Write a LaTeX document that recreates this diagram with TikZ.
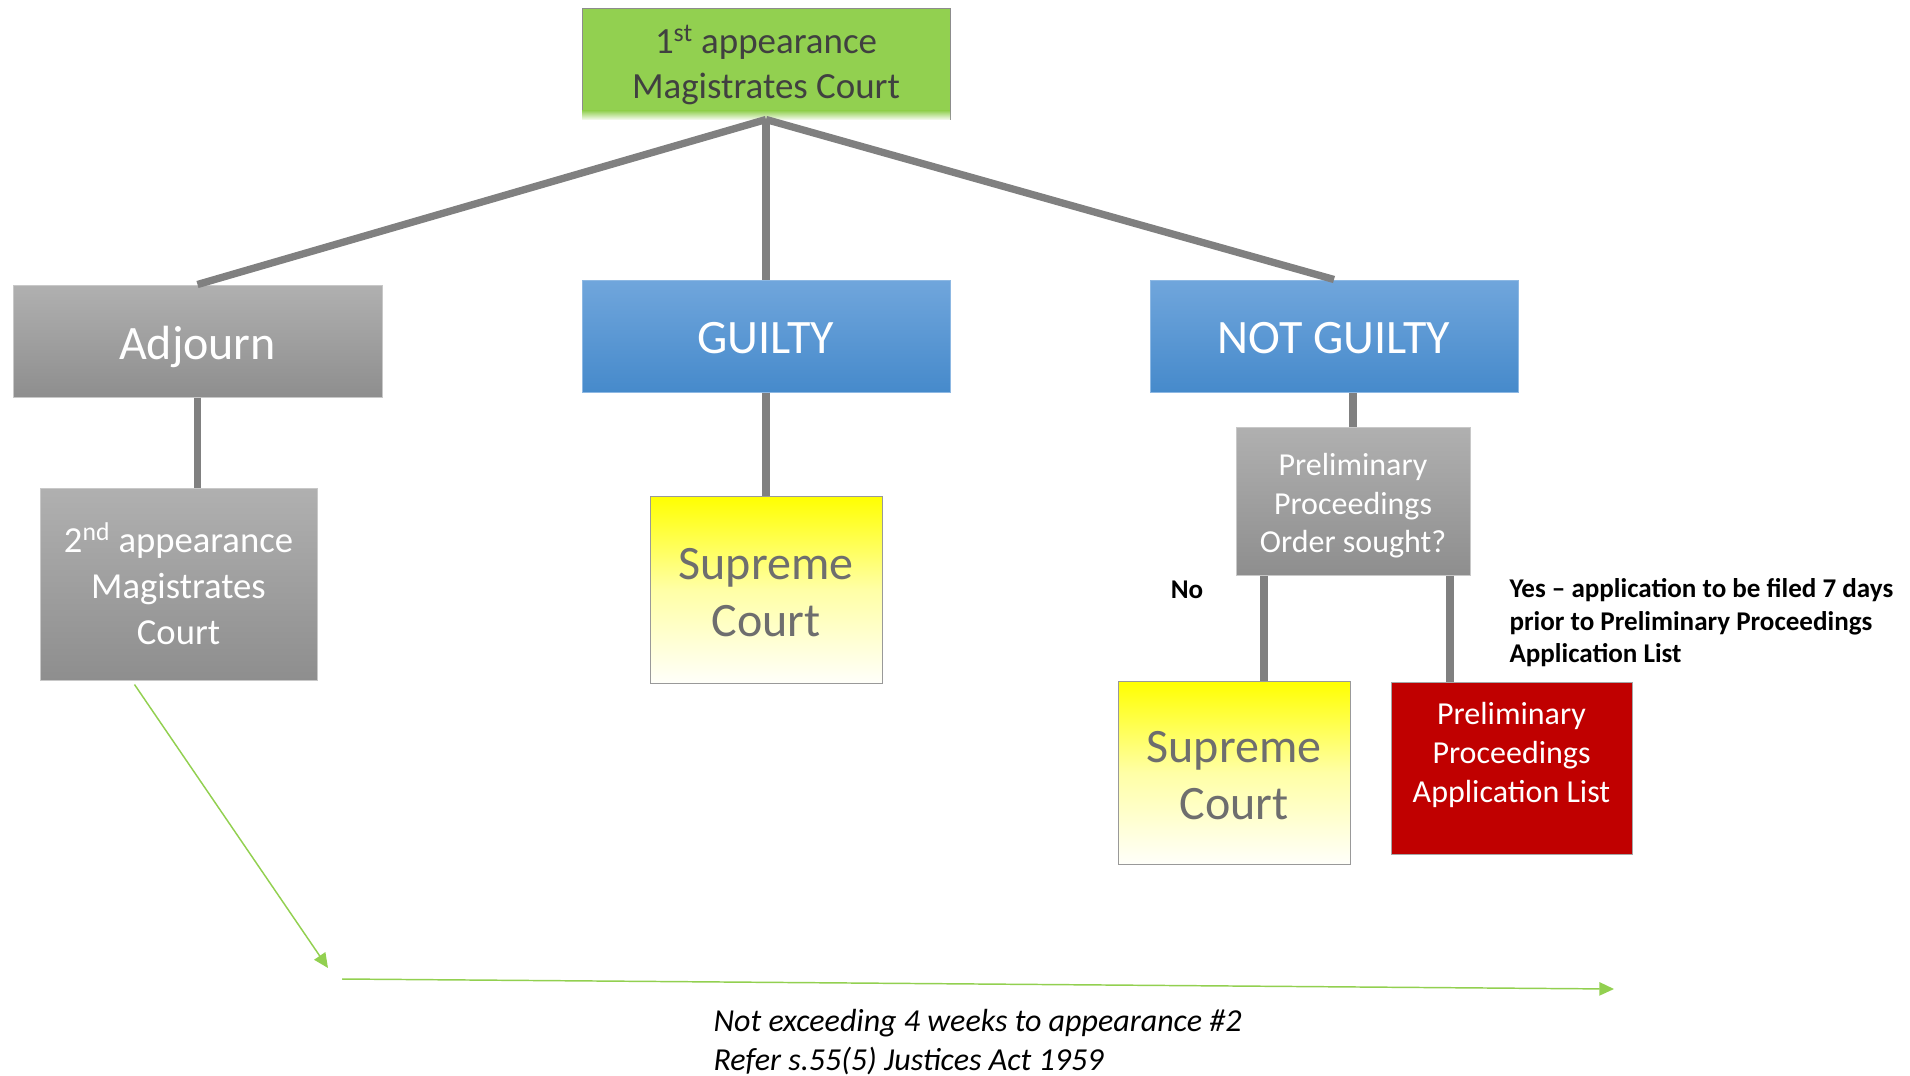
\documentclass[tikz,border=0pt]{standalone}
\usepackage{fontspec}
\setmainfont{Carlito}
\usetikzlibrary{calc,arrows.meta}

\definecolor{boxgreen}{HTML}{92D050}
\definecolor{greytop}{HTML}{B0B0B0}
\definecolor{greybot}{HTML}{8E8E8E}
\definecolor{bluetop}{HTML}{70A6DC}
\definecolor{bluebot}{HTML}{468ACB}
\definecolor{courtred}{HTML}{C00000}
\definecolor{linkgrey}{HTML}{808080}
\definecolor{textgrey}{HTML}{404040}
\definecolor{supgrey}{HTML}{6E6E6E}

% taller first line, pushes the text of a box down a little
\newcommand\tallfirst[1]{\rule{0pt}{\dimexpr\fontcharht\font`l+#1\relax}}

\tikzset{every picture/.style={line width=0.75pt}}
\tikzset{
  box/.style={rectangle, inner sep=0.75pt, align=center},
  greybox/.style={box, draw=greytop!70!white, top color=greytop, bottom color=greybot, text=white},
  bluebox/.style={box, draw=bluetop!80!white, top color=bluetop, bottom color=bluebot, text=white},
  supbox/.style={box, draw=black!40, top color=yellow, bottom color=yellow!2!white, middle color=yellow!35!white, text=supgrey},
  redbox/.style={box, draw=black!35, fill=courtred},
  link/.style={draw=linkgrey, line width=5.5pt},
  timeline/.style={draw=boxgreen, line width=1.1pt, -{Triangle[length=11pt,width=10pt]}}
}

\begin{document}
\begin{tikzpicture}[x=0.75pt,y=0.75pt,yscale=-1]
\useasboundingbox (0,0) rectangle (1910,1075);

%Shape: Rectangle
\node [box, draw=black!45, fill=boxgreen, text=textgrey, minimum width=276pt, minimum height=83.25pt, font=\fontsize{27.7}{34}\selectfont] (first) at (766,63.5) {\tallfirst{4.6pt}1\textsuperscript{st} appearance\\Magistrates Court};
\fill [top color=boxgreen, bottom color=white!85!boxgreen] ($(first.south west)+(0.5,-9)$) rectangle ($(first.south east)+(-0.5,-0.5)$);
%Shape: Rectangle
\node [greybox, minimum width=276.75pt, minimum height=84pt, font=\fontsize{36}{43}\selectfont] (adjourn) at (197.5,341) {\tallfirst{9pt}Adjourn};
%Shape: Rectangle
\node [bluebox, minimum width=276pt, minimum height=84pt, font=\fontsize{36}{43}\selectfont] (guilty) at (766,336) {\tallfirst{1.6pt}GUILTY};
%Shape: Rectangle
\node [bluebox, minimum width=276pt, minimum height=84pt, font=\fontsize{36}{43}\selectfont] (notguilty) at (1334,336) {\tallfirst{1.6pt}NOT GUILTY};
%Shape: Rectangle
\node [greybox, minimum width=207.75pt, minimum height=144pt, font=\fontsize{27.5}{34.5}\selectfont] (second) at (178.5,584) {2\textsuperscript{nd} appearance\\Magistrates\\Court};
%Shape: Rectangle
\node [supbox, minimum width=174pt, minimum height=140.25pt, font=\fontsize{36}{43}\selectfont] (supM) at (766,589.5) {\tallfirst{2.8pt}Supreme\\Court};
%Shape: Rectangle
\node [greybox, minimum width=175.5pt, minimum height=111pt, font=\fontsize{24}{29}\selectfont] (ppo) at (1353,501) {\tallfirst{7.3pt}Preliminary\\Proceedings\\Order sought?};
%Shape: Rectangle
\node [supbox, minimum width=174pt, minimum height=137.25pt, font=\fontsize{36}{43}\selectfont] (supR) at (1234,772.5) {\tallfirst{2.8pt}Supreme\\Court};
%Shape: Rectangle
\node [redbox, minimum width=180.75pt, minimum height=129pt] (red) at (1511.5,768) {};
% Text Node
\node [box, text=white, font=\fontsize{24}{29}\selectfont] (redtxt) at ($(red.center)+(0,-13)$) {Preliminary\\Proceedings\\Application List};

%Straight Lines
\draw [link] (first.south) -- (adjourn.north);
\draw [link] (first.south) -- (guilty.north);
\draw [link] (first.south) -- (notguilty.north);
\draw [link] (adjourn.south) -- (adjourn.south |- second.north);
\draw [link] (guilty.south) -- (supM.north);
\draw [link] (ppo.north) -- (ppo.north |- notguilty.south);
\coordinate (ppoNo) at ($(ppo.south)+(-89,0)$);
\coordinate (ppoYes) at ($(ppo.south)+(97,0)$);
\draw [link] (ppoNo) -- (ppoNo |- supR.north);
\draw [link] (ppoYes) -- (ppoYes |- red.north);

% Text Node
\node [inner sep=0.75pt, font=\bfseries\fontsize{20.3}{24.5}\selectfont] (no) at (1187,590) {No};
% Text Node
\node [anchor=north west, inner sep=0.75pt, align=left, font=\bfseries\fontsize{20.3}{24.5}\selectfont] (yes) at (1508,577) {Yes -- application to be filed 7 days\\prior to Preliminary Proceedings\\Application List};

%Arrows
\coordinate (lagStart) at ($(second.south)+(-44,4)$);
\coordinate (lagEnd) at (328,968);
\coordinate (spanStart) at (342,979);
\coordinate (spanEnd) at (1614,989);
\draw [timeline] (lagStart) -- (lagEnd);
\draw [timeline] (spanStart) -- (spanEnd);

% Text Node
\node [anchor=north west, inner sep=0.75pt, align=left, font=\itshape\fontsize{24}{29}\selectfont] (note) at (712,1008) {Not exceeding 4 weeks to appearance \#2\\Refer s.55(5) Justices Act 1959};

\end{tikzpicture}
\end{document}
